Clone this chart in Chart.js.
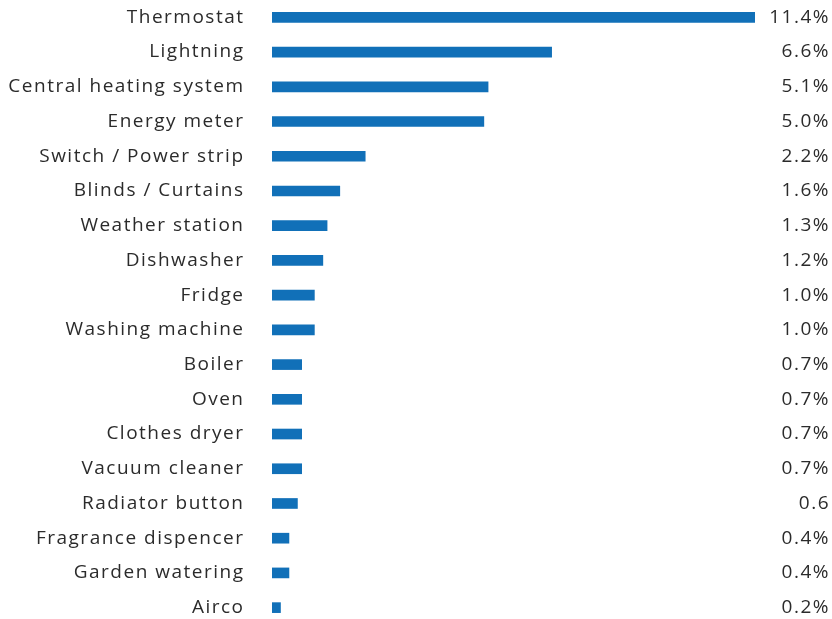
<!DOCTYPE html>
<html>
<head>
<meta charset="utf-8">
<script src="https://cdn.jsdelivr.net/npm/chart.js@4/dist/chart.umd.min.js"></script>
<style>
  html, body { margin: 0; padding: 0; background: #fff; overflow: hidden; }
  canvas { display: block; }
</style>
</head>
<body>
<canvas id="devices" width="832" height="625"></canvas>
<script>
const devices = [
  'Thermostat', 'Lightning', 'Central heating system', 'Energy meter',
  'Switch / Power strip', 'Blinds / Curtains', 'Weather station', 'Dishwasher',
  'Fridge', 'Washing machine', 'Boiler', 'Oven', 'Clothes dryer',
  'Vacuum cleaner', 'Radiator button', 'Fragrance dispencer', 'Garden watering', 'Airco'
];
const shares = [11.4, 6.6, 5.1, 5.0, 2.2, 1.6, 1.3, 1.2, 1.0, 1.0, 0.7, 0.7, 0.7, 0.7, 0.6, 0.4, 0.4, 0.2];
const shareLabels = [
  '11.4%', '6.6%', '5.1%', '5.0%', '2.2%', '1.6%', '1.3%', '1.2%', '1.0%', '1.0%',
  '0.7%', '0.7%', '0.7%', '0.7%', '0.6', '0.4%', '0.4%', '0.2%'
];

const blue = '#1170b8';
const textColor = '#2b2b2b';
const tracking = '1.5px';

// wide letter spacing for all text on the canvas
const spacedText = {
  id: 'spacedText',
  beforeUpdate(chart) { chart.ctx.letterSpacing = tracking; },
  beforeDraw(chart) { chart.ctx.letterSpacing = tracking; }
};

// value text on the right edge, one per row
const valueLabels = {
  id: 'valueLabels',
  afterDatasetsDraw(chart) {
    const { ctx } = chart;
    const meta = chart.getDatasetMeta(0);
    ctx.save();
    ctx.letterSpacing = tracking;
    ctx.font = '19px "Open Sans"';
    ctx.fillStyle = textColor;
    ctx.textAlign = 'right';
    ctx.textBaseline = 'middle';
    meta.data.forEach((bar, i) => {
      ctx.fillText(shareLabels[i], chart.width - 2, bar.y);
    });
    ctx.restore();
  }
};

new Chart(document.getElementById('devices'), {
  type: 'bar',
  data: {
    labels: devices,
    datasets: [{
      data: shares,
      backgroundColor: blue,
      barThickness: 10,
      borderWidth: 0
    }]
  },
  options: {
    indexAxis: 'y',
    responsive: false,
    animation: false,
    layout: { padding: { top: 0, bottom: 0, left: 0, right: 77 } },
    plugins: {
      legend: { display: false },
      tooltip: { enabled: false }
    },
    scales: {
      x: {
        min: 0,
        max: 11.4,
        display: false
      },
      y: {
        grid: { display: false, drawTicks: false },
        border: { display: false },
        afterFit(scale) {
          // rows fill the full height, labels sit 29px left of the bars
          scale.width = 272;
          scale.paddingTop = 0;
          scale.paddingBottom = 0;
        },
        ticks: {
          padding: 27.5,
          color: textColor,
          font: { family: 'Open Sans', size: 19 }
        }
      }
    }
  },
  plugins: [spacedText, valueLabels]
});
</script>
</body>
</html>
